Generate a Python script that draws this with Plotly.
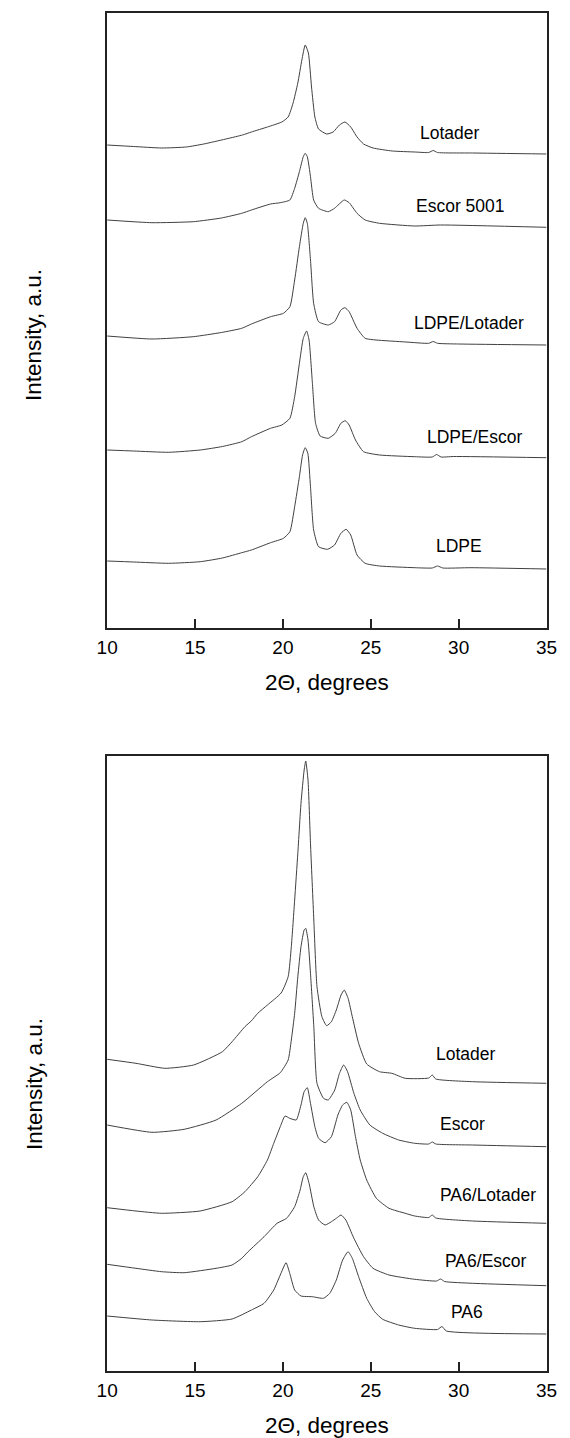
import plotly.graph_objects as go

# ---------------- upper panel: LDPE-based samples ----------------
top_lotader_x = [10, 11.5, 13.1, 14.5, 15.5, 17.7, 18.21, 19.12, 19.94, 20.3, 20.58, 20.85, 21.08, 21.27,
                 21.45, 21.63, 21.82, 22.03, 22.49, 22.86, 23.22, 23.53, 23.86, 24.22, 24.59, 25.13, 26.23,
                 27.5, 28.3, 28.55, 28.8, 30.8, 35]
top_lotader_y = [483, 481.5, 480, 481, 484, 493, 496, 501, 506, 511, 525, 545, 568, 583,
                 575, 541, 511, 499, 494, 496, 503, 506, 501, 491, 484, 480, 477,
                 476, 475.5, 477.5, 475.5, 475, 474]

escor5001_x = [10, 12.55, 14.9, 16.5, 17.66, 18.21, 19.3, 19.85, 20.4, 20.67, 20.94, 21.16, 21.27, 21.39,
               21.57, 21.75, 22.03, 22.58, 22.94, 23.49, 23.77, 24.22, 24.68, 25.5, 27.5, 28.97, 35]
escor5001_y = [408, 405.3, 406.3, 410, 414.7, 418, 424, 425.3, 428, 439.7, 456.3, 471.3, 474.7, 471.3,
               451.3, 428, 419.7, 416.3, 419.7, 428, 425.3, 414.7, 408, 404.7, 402, 403, 400.7]

ldpe_lotader_x = [10, 12.55, 14.9, 16.5, 17.66, 18.21, 19.3, 20.03, 20.4, 20.67, 20.94, 21.16, 21.27, 21.39,
                  21.57, 21.75, 22.03, 22.58, 22.94, 23.3, 23.53, 23.77, 24.22, 24.68, 25.3, 27.0, 28.3,
                  28.55, 28.8, 30, 35]
ldpe_lotader_y = [292, 289, 291.3, 295.5, 299.7, 304, 311.3, 314.7, 321.3, 348, 381.3, 404.7, 410.3, 404.7,
                  368, 324.7, 306.3, 303, 306.3, 318, 320.3, 316.3, 299.7, 289.7, 288, 286, 284.7,
                  286.5, 284.7, 284, 283]

ldpe_escor_x = [10, 11.5, 13.5, 15.3, 16.56, 17.66, 18.21, 19.3, 19.94, 20.4, 20.67, 20.94, 21.16, 21.35,
                21.49, 21.68, 21.86, 22.12, 22.58, 22.98, 23.3, 23.55, 23.77, 24.13, 24.59, 25.5, 27.5,
                28.5, 28.75, 29.0, 29.7, 35]
ldpe_escor_y = [178, 177, 175.7, 178, 181.5, 186.3, 191.3, 199.7, 203, 209.7, 231.3, 264.7, 289.7, 297,
                288, 244.7, 204.7, 192, 189.7, 194.7, 204.7, 207.3, 203, 188, 176.3, 173, 171.3,
                171, 173.5, 171, 171.5, 170.3]

ldpe_x = [10, 11.5, 13.5, 15.3, 16.56, 17.66, 18.21, 19.3, 20.03, 20.4, 20.67, 20.94, 21.12, 21.27,
          21.42, 21.57, 21.75, 22.03, 22.54, 22.94, 23.3, 23.6, 23.86, 24.22, 24.68, 25.5, 27.5,
          28.5, 28.8, 29.1, 30.7, 35]
ldpe_y = [67, 66, 64.7, 66.3, 70, 75.3, 78, 85.3, 89.7, 96.3, 121.3, 151.3, 173, 180.3,
          174.7, 141.3, 98, 81.3, 78.7, 83, 94.7, 98.7, 93, 73, 64.7, 62, 60.3,
          60, 62, 60, 60.3, 59]

# ---------------- lower panel: PA6-based samples ----------------
bot_lotader_x = [10, 11.64, 13.28, 14.92, 16.56, 17.11, 17.84, 18.2, 18.57, 19.12, 19.9, 20.3, 20.48,
                 20.67, 20.85, 21.03, 21.21, 21.3, 21.43, 21.57, 21.76, 21.94, 22.22, 22.49, 22.76, 23.04,
                 23.31, 23.49, 23.71, 23.95, 24.31, 24.77, 25.5, 26.2, 26.96, 28.3, 28.5, 28.7, 30.8, 35]
bot_lotader_y = [311.7, 307.7, 302.7, 306, 319.3, 329.3, 344.3, 350, 357.7, 366, 378, 394.3, 424.3,
                 471, 517.7, 567.7, 601, 610, 591, 527.7, 451, 384.3, 354.3, 345.3, 349.3, 361,
                 376, 381, 372.7, 354.3, 327.7, 307, 299.3, 297.7, 292.7, 293, 296, 292, 289.3, 287.7]

bot_escor_x = [10, 12.55, 14.38, 16.2, 17.66, 19.12, 19.85, 20.3, 20.48, 20.67, 20.85, 21.03, 21.21, 21.3,
               21.43, 21.57, 21.76, 21.94, 22.31, 22.58, 22.95, 23.22, 23.46, 23.68, 24.04, 24.4, 24.95,
               25.68, 26.59, 27.5, 28.3, 28.5, 28.7, 30.8, 35]
bot_escor_y = [246, 238.7, 241.7, 251, 267.7, 289.3, 298.3, 311, 331, 357.7, 394.3, 424.3, 441, 442.7,
               431, 397.7, 344.3, 287.7, 272.7, 271, 281, 297.7, 306, 299.3, 277.7, 261, 246,
               237.7, 231, 227.7, 227, 229, 227, 226, 224.3]

pa6_lotader_x = [10, 11.64, 13.1, 15.29, 17.11, 17.84, 18.57, 19.12, 19.48, 19.85, 20.12, 20.39, 20.76,
                 21.03, 21.21, 21.39, 21.57, 21.82, 22.03, 22.4, 22.76, 23.13, 23.4, 23.64, 23.86, 24.13,
                 24.4, 24.77, 25.32, 26.04, 26.96, 27.5, 28.3, 28.5, 28.7, 30.8, 35]
pa6_lotader_y = [163.3, 160, 157.7, 160, 169.3, 179.3, 194.3, 211, 227.7, 244.3, 255, 252.7, 251,
                 266, 279.3, 283.3, 267.7, 244.3, 232.7, 228.3, 234.3, 256, 266, 268.7, 261, 234.3,
                 211, 191, 172.7, 162.7, 157.7, 155, 153.5, 156, 153, 150, 147.7]

pa6_escor_x = [10, 11.64, 13.1, 14.38, 16.2, 17.11, 17.66, 18.02, 18.93, 19.67, 20.21, 20.67, 20.98,
               21.16, 21.3, 21.49, 21.76, 22.03, 22.4, 22.76, 23.04, 23.31, 23.58, 24.04, 24.59, 25.13,
               26.04, 27.5, 28.75, 28.97, 29.2, 30.8, 35]
pa6_escor_y = [106.7, 102.7, 99.3, 98.3, 102.7, 106, 112.7, 119.3, 134.3, 147.7, 152.7, 164.3, 181,
               194.3, 198.3, 187.7, 164.3, 151, 146, 149.3, 152.7, 156, 151, 132.7, 114.3, 102.7,
               96, 91.7, 90, 92, 89.5, 87.7, 85.3]

pa6_x = [10, 12.55, 15.29, 17.11, 18.21, 18.93, 19.48, 19.85, 20.18, 20.39, 20.67, 21.03, 21.67, 22.31,
         22.67, 23.04, 23.4, 23.71, 23.95, 24.31, 24.77, 25.22, 25.68, 26.59, 27.5, 28.8, 29.05, 29.3, 35]
pa6_y = [55, 51, 49.3, 52, 61, 67.7, 81, 96, 108.3, 97.7, 81, 75, 74.3, 72.7,
         77.7, 91, 111, 119.3, 112.7, 94.3, 72.7, 59.3, 51.7, 46, 42.7, 41.5, 44.5, 40, 37]

x_ticks = [10, 15, 20, 25, 30, 35]

FONT = "Arial, Liberation Sans, sans-serif"
LINE = "#404040"
AXIS = "#222222"
W, H = 570, 1438

top_series = [
    ("Lotader", top_lotader_x, top_lotader_y, 29.53, 495),
    ("Escor 5001", escor5001_x, escor5001_y, 30.13, 422),
    ("LDPE/Lotader", ldpe_lotader_x, ldpe_lotader_y, 30.57, 305),
    ("LDPE/Escor", ldpe_escor_x, ldpe_escor_y, 30.9, 191),
    ("LDPE", ldpe_x, ldpe_y, 30.02, 82),
]
bottom_series = [
    ("Lotader", bot_lotader_x, bot_lotader_y, 30.4, 317),
    ("Escor", bot_escor_x, bot_escor_y, 30.24, 247),
    ("PA6/Lotader", pa6_lotader_x, pa6_lotader_y, 31.66, 176),
    ("PA6/Escor", pa6_escor_x, pa6_escor_y, 31.55, 110),
    ("PA6", pa6_x, pa6_y, 30.5, 59),
]

fig = go.Figure()
annotations = []

for axes, series in ((("x", "y"), top_series), (("x2", "y2"), bottom_series)):
    xa, ya = axes
    for name, xs, ys, lx, ly in series:
        fig.add_trace(go.Scatter(x=xs, y=ys, mode="lines", name=name,
                                 line=dict(color=LINE, width=1, shape="spline", smoothing=0.5),
                                 xaxis=xa, yaxis=ya, showlegend=False))
        annotations.append(dict(x=lx, y=ly, xref=xa, yref=ya, text=name, showarrow=False,
                                font=dict(family=FONT, size=17.5, color="#000"),
                                xanchor="center", yanchor="middle"))

# axis titles placed in pixel terms of the page
def px_x(v):
    return v / W

def px_y(v):
    return 1 - v / H

for ycenter in (335, 1084):
    annotations.append(dict(x=px_x(24), y=px_y(ycenter), xref="paper", yref="paper",
                            text="Intensity, a.u.", showarrow=False, textangle=-90,
                            font=dict(family=FONT, size=22.5, color="#000"),
                            xanchor="center", yanchor="middle"))
for ycenter in (683, 1425):
    annotations.append(dict(x=px_x(328.5), y=px_y(ycenter), xref="paper", yref="paper",
                            text="2\u0398, degrees", showarrow=False,
                            font=dict(family=FONT, size=22.5, color="#000"),
                            xanchor="center", yanchor="middle"))

xdom = [px_x(100), px_x(557)]
xaxis_style = dict(domain=xdom, range=[10, 35], tickvals=x_ticks, ticks="inside", ticklen=9,
                   tickwidth=1.5, tickcolor=AXIS, showline=True, linecolor=AXIS, linewidth=1.6,
                   mirror=True, showgrid=False, zeroline=False, ticklabelstandoff=1,
                   tickfont=dict(family=FONT, size=19, color="#000"))
yaxis_style = dict(range=[0, 615], showticklabels=False, ticks="", showline=True, linecolor=AXIS,
                   linewidth=1.6, mirror=True, showgrid=False, zeroline=False)

fig.update_layout(
    width=W, height=H,
    margin=dict(l=0, r=0, t=0, b=0),
    paper_bgcolor="white", plot_bgcolor="white",
    xaxis=dict(anchor="y", **xaxis_style),
    yaxis=dict(anchor="x", domain=[px_y(628), px_y(13)], **yaxis_style),
    xaxis2=dict(anchor="y2", **xaxis_style),
    yaxis2=dict(anchor="x2", domain=[px_y(1371), px_y(756)], **yaxis_style),
    annotations=annotations,
    showlegend=False,
)

fig.write_html("out.html")
